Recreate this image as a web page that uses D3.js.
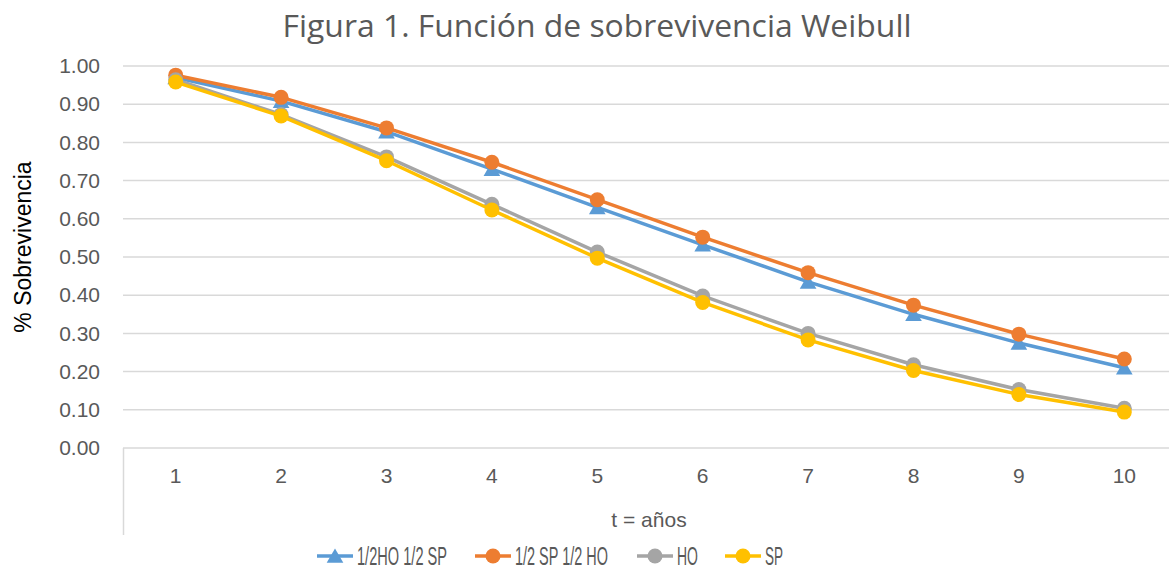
<!DOCTYPE html>
<html>
<head>
<meta charset="utf-8">
<script src="https://cdn.jsdelivr.net/npm/d3@7"></script>
<style>
  body { margin: 0; background: #fff; }
  svg { display: block; }
</style>
</head>
<body>
<svg id="chart"></svg>
<script>
// data
const years = [1, 2, 3, 4, 5, 6, 7, 8, 9, 10];
const yTicks = [0, 0.1, 0.2, 0.3, 0.4, 0.5, 0.6, 0.7, 0.8, 0.9, 1.0];

const seriesNames = ["1/2HO 1/2 SP", "1/2 SP 1/2 HO", "HO", "SP"];
const halfHoHalfSp = [0.970, 0.908, 0.828, 0.730, 0.630, 0.532, 0.435, 0.350, 0.275, 0.210];
const halfSpHalfHo = [0.976, 0.918, 0.838, 0.748, 0.650, 0.552, 0.459, 0.374, 0.298, 0.233];
const ho = [0.964, 0.873, 0.762, 0.638, 0.513, 0.398, 0.300, 0.218, 0.153, 0.104];
const sp = [0.958, 0.869, 0.752, 0.623, 0.497, 0.381, 0.283, 0.203, 0.140, 0.094];

const seriesValues = [halfHoHalfSp, halfSpHalfHo, ho, sp];
const seriesColors = ["#5b9bd5", "#ed7d31", "#a5a5a5", "#ffc000"];
const seriesMarkers = ["triangle", "circle", "circle", "circle"];

const config = {
    width: 1169,
    height: 569,
    margin: {top: 66, right: -8, bottom: 121, left: 123}
};

const svg = d3.select('#chart')
    .attr('width', config.width)
    .attr('height', config.height);

const plotW = config.width - config.margin.left - config.margin.right;
const plotH = config.height - config.margin.top - config.margin.bottom;

const chart = svg.append('g')
    .attr('transform', `translate(${config.margin.left}, ${config.margin.top})`);

// scales
const xScale = d3.scaleBand()
    .domain(years)
    .range([0, plotW]);

const yScale = d3.scaleLinear()
    .domain([0, 1])
    .range([plotH, 0]);

const xc = d => xScale(d) + xScale.bandwidth() / 2;

// title
svg.append('text')
    .attr('x', 597)
    .attr('y', 37)
    .attr('text-anchor', 'middle')
    .attr('fill', '#595959')
    .style('font-family', '"Open Sans", sans-serif')
    .style('font-size', '31px')
    .attr('textLength', 629)
    .attr('lengthAdjust', 'spacingAndGlyphs')
    .text('Figura 1. Función de sobrevivencia Weibull');

// gridlines
chart.selectAll('.grid')
    .data(yTicks.slice(1))
    .join('line')
        .attr('class', 'grid')
        .attr('x1', 0)
        .attr('x2', plotW)
        .attr('y1', d => yScale(d))
        .attr('y2', d => yScale(d))
        .attr('stroke', '#d9d9d9')
        .attr('stroke-width', 1.5);

// category axis box (baseline + left edge going down)
chart.append('line')
    .attr('x1', 0).attr('x2', plotW)
    .attr('y1', plotH).attr('y2', plotH)
    .attr('stroke', '#d9d9d9').attr('stroke-width', 1.5);
chart.append('line')
    .attr('x1', 0.5).attr('x2', 0.5)
    .attr('y1', plotH).attr('y2', plotH + 87)
    .attr('stroke', '#d9d9d9').attr('stroke-width', 1.5);

// y axis labels
const yAxis = d3.axisLeft(yScale)
    .tickValues(yTicks)
    .tickFormat(d3.format('.2f'))
    .tickSize(0)
    .tickPadding(23);

chart.append('g')
    .call(yAxis)
    .call(g => g.select('.domain').remove())
    .call(g => g.selectAll('text')
        .attr('fill', '#595959')
        .style('font-family', '"Liberation Sans", Arial, sans-serif')
        .style('font-size', '21px'));

// x axis labels
const xAxis = d3.axisBottom(xScale)
    .tickSize(0)
    .tickPadding(20);

chart.append('g')
    .attr('transform', `translate(0, ${plotH})`)
    .call(xAxis)
    .call(g => g.select('.domain').remove())
    .call(g => g.selectAll('text')
        .attr('fill', '#595959')
        .style('font-family', '"Liberation Sans", Arial, sans-serif')
        .style('font-size', '21px'));

// axis titles
svg.append('text')
    .attr('x', 649)
    .attr('y', 527)
    .attr('text-anchor', 'middle')
    .attr('fill', '#595959')
    .style('font-family', '"Liberation Sans", Arial, sans-serif')
    .style('font-size', '21px')
    .text('t = años');

svg.append('text')
    .attr('transform', 'translate(31, 247) rotate(-90)')
    .attr('text-anchor', 'middle')
    .attr('fill', '#000')
    .style('font-family', '"Liberation Sans", Arial, sans-serif')
    .style('font-size', '23px')
    .text('% Sobrevivencia');

// markers
const triangle = d3.symbol().type(d3.symbolTriangle).size(120);

function drawMarker(g, type, color, x, y) {
    if (type === 'triangle') {
        g.append('path')
            .attr('d', triangle())
            .attr('transform', `translate(${x}, ${y + 2})`)
            .attr('fill', color);
    } else {
        g.append('circle')
            .attr('cx', x).attr('cy', y).attr('r', 7.5)
            .attr('fill', color);
    }
}

const line = d3.line()
    .x((d, i) => xc(years[i]))
    .y(d => yScale(d));

seriesValues.forEach((vals, s) => {
    const g = chart.append('g');
    g.append('path')
        .datum(vals)
        .attr('d', line)
        .attr('fill', 'none')
        .attr('stroke', seriesColors[s])
        .attr('stroke-width', 3.5)
        .attr('stroke-linejoin', 'round');
    vals.forEach((v, i) => drawMarker(g, seriesMarkers[s], seriesColors[s], xc(years[i]), yScale(v)));
});

// legend
const legendX = [317, 475, 637, 725];
const legendW = [90, 93, 21, 18];
const legend = svg.append('g');
seriesNames.forEach((name, s) => {
    const g = legend.append('g').attr('transform', `translate(${legendX[s]}, 556)`);
    g.append('line')
        .attr('x1', 0).attr('x2', 36)
        .attr('stroke', seriesColors[s])
        .attr('stroke-width', 3.5);
    drawMarker(g, seriesMarkers[s], seriesColors[s], 18, 0);
    g.append('text')
        .attr('x', 40)
        .attr('y', 9)
        .attr('fill', '#595959')
        .style('font-family', '"Liberation Sans Narrow", "Liberation Sans", sans-serif')
        .style('font-size', '25px')
        .attr('textLength', legendW[s])
        .attr('lengthAdjust', 'spacingAndGlyphs')
        .text(name);
});
</script>
</body>
</html>
